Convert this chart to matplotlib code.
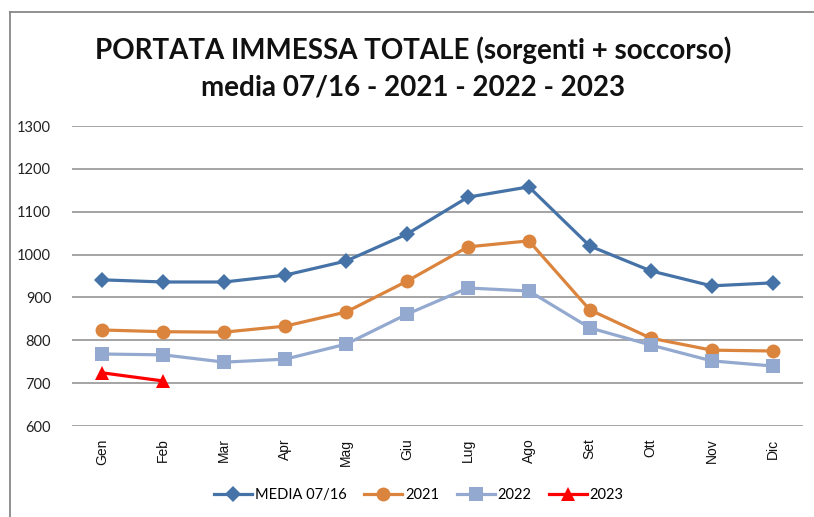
import matplotlib
matplotlib.use("Agg")
import matplotlib.pyplot as plt
from matplotlib.lines import Line2D

months = ["Gen", "Feb", "Mar", "Apr", "Mag", "Giu", "Lug", "Ago", "Set", "Ott", "Nov", "Dic"]
media_0716 = [941, 936, 936, 952, 985, 1048, 1134, 1158, 1020, 962, 927, 934]
y2021 = [824, 820, 819, 833, 866, 938, 1018, 1032, 871, 805, 777, 775]
y2022 = [768, 766, 749, 756, 791, 861, 922, 915, 829, 789, 752, 740]
y2023 = [724, 705]
yticks = [600, 700, 800, 900, 1000, 1100, 1200, 1300]

title = "PORTATA IMMESSA TOTALE (sorgenti + soccorso)\nmedia 07/16 - 2021 - 2022 - 2023"

W, H = 814, 517
fig = plt.figure(figsize=(W / 100, H / 100), dpi=100)
fig.patch.set_facecolor("white")

# plot area in pixels: left 72, right 803, top 126, bottom 426
ax = fig.add_axes([72 / W, 1 - 426 / H, (803 - 72) / W, (426 - 126) / H])

x = list(range(len(months)))
series = [
    ("MEDIA 07/16", media_0716, "#4572A7", "D", 8.5),
    ("2021", y2021, "#DB843D", "o", 10),
    ("2022", y2022, "#93A9CF", "s", 9.5),
    ("2023", y2023, "#FF0000", "^", 9.5),
]
for name, vals, col, mk, ms in series:
    ax.plot(x[:len(vals)], vals, color=col, marker=mk, markersize=ms, linewidth=2.3,
            label=name, zorder=3, markeredgewidth=0)

ax.set_xlim(-0.5, len(months) - 0.5)
ax.set_ylim(600, 1300)
ax.set_yticks(yticks)
ax.set_yticklabels([str(v) for v in yticks], fontfamily="Lato", fontsize=10.5, color="#222222")
ax.set_xticks(x)
ax.set_xticklabels(months, rotation=90, fontfamily="Liberation Sans", fontsize=10, color="#111111")
ax.tick_params(axis="x", length=0, pad=9)
ax.tick_params(axis="y", length=0, pad=15)
ax.grid(axis="y", color="#8c8c8c", linewidth=1.1, zorder=0)
for s in ax.spines.values():
    s.set_visible(False)

fig.text(0.5 + 6 / W, 1 - 68 / H, title, ha="center", va="center", fontfamily="Lato",
         fontweight="bold", fontsize=20, linespacing=1.5, color="#111111")

# chart area border (left and top visible)
fig.add_artist(Line2D([10 / W, 10 / W], [0, 1 - 12 / H], color="#888888", linewidth=1.3,
                      transform=fig.transFigure))
fig.add_artist(Line2D([10 / W, 1], [1 - 12 / H, 1 - 12 / H], color="#888888", linewidth=1.3,
                      transform=fig.transFigure))

fig.legend(loc="center", bbox_to_anchor=(419 / W, 1 - 495 / H), ncol=4, frameon=False,
           prop={"family": "Lato", "size": 10.5}, handlelength=2.6, columnspacing=1.2,
           handletextpad=0.2)

fig.savefig("out.png", dpi=100, facecolor="white")
